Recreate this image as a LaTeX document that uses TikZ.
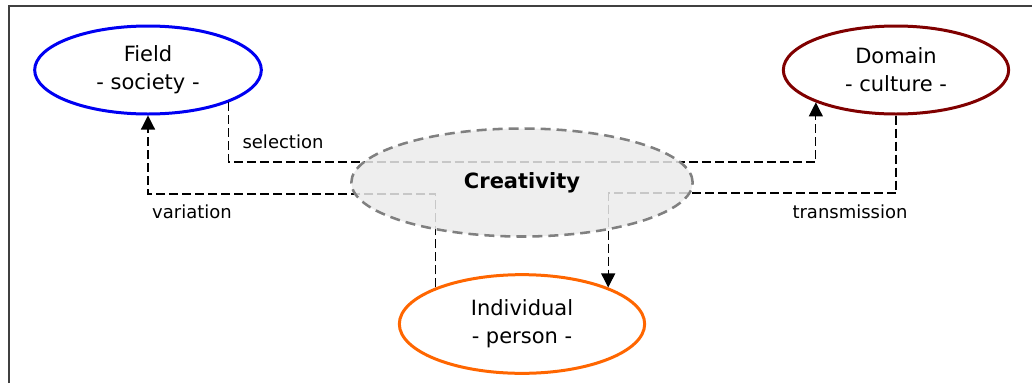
\documentclass[tikz,border=0pt]{standalone}
\usepackage{fontspec}
\setmainfont{DejaVu Sans}
\usetikzlibrary{shapes.geometric}
\usetikzlibrary{arrows.meta}
\definecolor{fieldblue}{rgb}{0.0, 0.0, 0.95}
\definecolor{domainred}{rgb}{0.5, 0.0, 0.0}
\definecolor{personorange}{rgb}{1.0, 0.4, 0.0}
\tikzset{
  sphere/.style={ellipse,draw,line width=2.25pt,inner sep=0pt,align=center,
    font=\fontsize{15.75}{21}\selectfont},
  flow/.style={draw=black,line width=0.9pt,dash pattern=on 6.75pt off 3pt,
    -{Triangle[width=10.5pt,length=10.5pt]}},
  flowlabel/.style={font=\fontsize{13.5}{16}\selectfont}
}
\begin{document}
\begin{tikzpicture}[x=0.75pt,y=-0.75pt]
 \useasboundingbox (0,0) rectangle (1032,383);
 \draw[line width=1.5pt,black!75] (9,383) -- (9,6) -- (1032,6);
 \node[sphere,draw=fieldblue,minimum width=170pt,minimum height=66pt] (field) at (148,70) {Field\\- society -};
 \node[sphere,draw=domainred,minimum width=169pt,minimum height=66pt] (domain) at (896,70) {Domain\\- culture -};
 \node[sphere,draw=personorange,minimum width=184pt,minimum height=74pt] (individual) at (522,324) {Individual\\- person -};
 % links
 \draw[flow] (field.-22) -- (field.-22 |- 0,162) -| (domain.-158);
 \draw[flow] (individual.157) -- (individual.157 |- 0,194) -| (field.south);
 \draw[flow] (domain.south) -- (domain.south |- 0,193) -| (individual.23);
 \node[flowlabel] (sel) at (283,142) {selection};
 \node[flowlabel] (var) at (192,212) {variation};
 \node[flowlabel] (trans) at (850,212) {transmission};
 \node[sphere,draw=black!50,line width=1.9pt,dash pattern=on 7.5pt off 4.5pt,fill=black!8,fill opacity=0.85,text opacity=1,
   minimum width=256pt,minimum height=81pt,font=\fontsize{15.75}{21}\selectfont\bfseries] (creativity) at (522,182.5) {Creativity};
\end{tikzpicture}
\end{document}
